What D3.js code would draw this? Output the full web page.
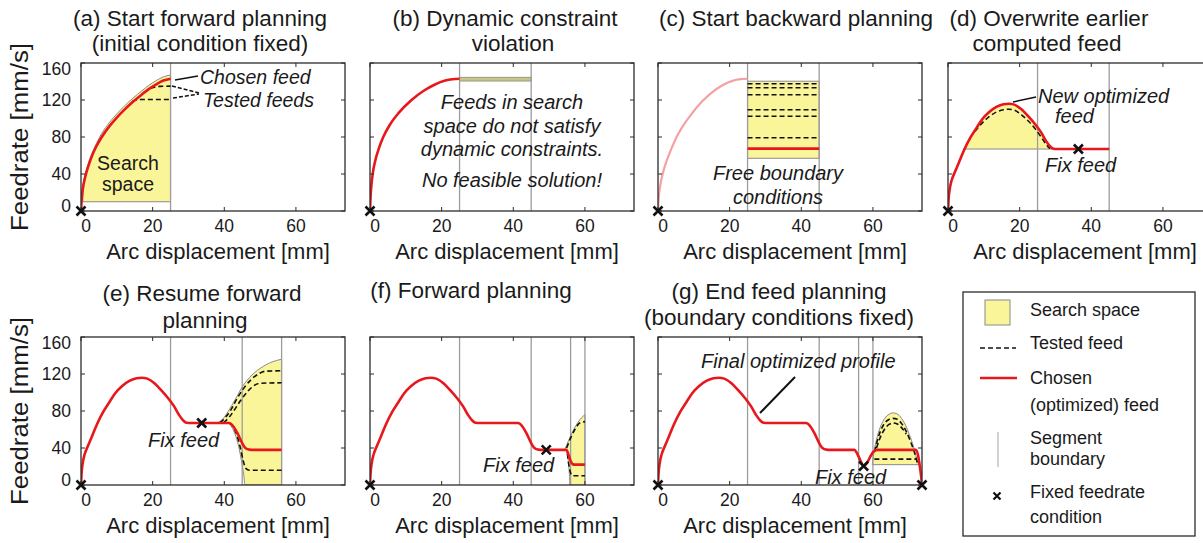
<!DOCTYPE html>
<html>
<head>
<meta charset="utf-8">
<script src="https://cdn.jsdelivr.net/npm/d3@7"></script>
<style>
	body { margin: 0; background: #fff; }
	svg { display: block; font-family: "Liberation Sans", Arial, sans-serif; }
</style>
</head>
<body>
<svg id="fig" width="1203" height="543"></svg>
<script>
// ---- data (arc displacement mm, feedrate mm/s) ----
const xTicks = [0, 20, 40, 60];
const yTicks = [0, 40, 80, 120, 160];
const arcEnd = 73.7;
const segmentBounds = [25, 45, 56, 60];

// (a) start forward planning
const redA = [[0,0],[0.2,13],[0.6,26],[1.2,37],[2,48],[3,59],[4.3,70],[5.8,80],[8,92],[10,101],[12,109],[14.5,118],[17,126],[19,132],[21,137],[23,141],[25,143]];
const searchUpperA = [[0.5,10],[0.6,28],[1.2,40],[2,51],[3,62],[4.3,73],[5.8,84],[8,96],[10,105],[12,113],[14.5,122],[17,130],[19,136],[21,141],[23,145],[25,147]];
const searchFloorA = 10;
const testedA = [
	[[17.5,128],[19,131.8],[20.5,133.8],[22,134.7],[25,135]],
	[[14.3,118.3],[15.3,120],[16.5,120.5],[25,120.5]],
];

// (b) dynamic constraint violation
const redB = [[0,0],[0.15,15],[0.4,28],[0.75,40],[1.5,55],[2.5,68],[3.7,80],[5.5,93],[8,106],[11.6,120],[15,130],[18,136.5],[21,141],[23,142.5],[25,143]];
const bandB = [140.5, 144.5];

// (c) start backward planning
const redC = [[0,0],[0.2,14],[0.6,27],[1.3,40],[2.3,53],[3.6,66],[5.2,80],[7.5,95],[9.8,107],[12.2,118],[15,128],[18,136],[21,141],[23,142.5],[25,143]];
const searchC = [57, 140.3];
const testedC = [137.5, 133.2, 125.6, 109.4, 102.5, 79.2];
const chosenC = 67.4;

// final optimized profile (g)
const finalProfile = [[0,0],[0.15,12],[0.5,24],[1,33],[1.8,41],[3,52],[4.5,66],[6.2,79],[8,90],[9.5,99],[11.5,107],[13.5,112.5],[15.5,115.5],[17,116],[18.5,115],[20.5,110],[22.5,102],[24.5,93],[26,85],[27.5,75],[28.6,69.5],[29.5,67.3],[30.5,67],
	[41.3,67],[42.6,63],[43.8,55],[44.9,46],[45.9,40],[47,38.2],[48,38],
	[54.8,38],[55.6,34],[56.5,26.5],[57.4,20.5],[58.3,23.5],[59.3,31],[60.3,36.5],[61.2,38],
	[72,38],[72.6,32],[73.1,20],[73.5,8],[73.7,0]];

// (d) overwrite earlier computed feed
const tailD = [[45,67]];
const searchUpperD = [[4.4,67],[6.2,79],[8,90],[9.5,99],[11.5,107],[13.5,112.5],[15.5,115.5],[17,116],[18.5,115],[20.5,110],[22.5,102],[24.5,93],[26,85],[27.5,75],[28.6,69.5],[29.5,67]];
const searchFloorD = [[4.4,67],[29.5,67]];
const testedD = [
	[[7.5,86],[9.5,95],[11.5,102],[13.5,107],[15.5,109.5],[17,110],[18.5,109],[20.5,104],[22.5,97],[24.5,88],[26,80],[27.5,71.5],[28.5,67.5]],
];

// (e) resume forward planning
const tailE = [[56,38]];
const searchUpperE = [[38,67],[39.5,71],[41,79],[43,92],[45,106],[47,116],[50,126],[53,132.5],[56,136]];
const searchLowerE = [[38,67],[41,67],[42,63],[43,55],[44,42],[44.8,26],[45.4,12],[45.8,0],[56,0]];
const testedE = [
	[[38.8,67.5],[40.3,73],[41.8,81],[43.5,93],[45.5,105],[47.5,114],[49.5,120],[51.5,123],[56,123.5]],
	[[39.8,67.5],[41.3,73],[42.8,81],[44.5,91],[46.5,101],[48.5,108],[50,110],[56,110.5]],
	[[41.6,67],[42.6,62],[43.6,53],[44.5,40],[45.3,26],[46,18],[47,16],[56,16]],
];

// (f) forward planning
const tailF = [[55.4,33],[56,26],[56.6,22.5],[57.2,22],[60,22]];
const searchUpperF = [[54.3,38],[55,44],[56,53],[57,61],[58,67.5],[59,72.5],[60,76]];
const searchLowerF = [[54.3,38],[54.8,38],[55.2,31],[55.5,20],[55.7,9],[55.8,0],[60,0]];
const testedF = [
	[[54.9,40],[55.6,47],[56.5,55],[57.5,62],[58.5,67],[60,68.5]],
	[[55.1,34],[55.5,22],[56,13],[56.6,10],[60,10]],
];

// (g) end feed planning
const searchUpperG = [[59.8,22],[60.4,38],[61.2,52],[62.2,64],[63.3,72],[64.5,76.5],[65.5,78],[66.7,77],[68,72],[69.3,63],[70.5,51],[71.6,38],[72.4,26],[72.8,22]];
const searchFloorG = [[59.8,22],[72.8,22]];
const testedG = [
	[[60.5,36],[61.3,49],[62.3,60],[63.4,67.5],[64.6,71],[65.6,72],[66.8,71],[68,66.5],[69.3,58],[70.5,47],[71.6,35],[72.4,24]],
	[[61,40],[62,51],[63.2,60],[64.5,65.5],[65.6,67],[66.8,66],[68,62],[69.3,55]],
	[[60.4,28],[72.2,28]],
];

const fixedPoints = {
	a: [[0,0]], b: [[0,0]], c: [[0,0]],
	d: [[0,0],[36.4,67]],
	e: [[0,0],[33.7,67]],
	f: [[0,0],[49.2,38]],
	g: [[0,0],[57.4,20.5],[73.7,0]],
};

// ---- layout ----
const W = 264, H = 148;
const RED = "#e8171c", YELLOW = "#fbf59a", OUTLINE = "#8a8a8a", SEG = "#9c9c9c", INK = "#1a1a1a";

const svg = d3.select("#fig");
const x = d3.scaleLinear().domain([0, arcEnd]).range([0, W]);
const y = d3.scaleLinear().domain([0, 160]).range([H, 0]);
const line = d3.line().x((d) => x(d[0])).y((d) => y(d[1])).curve(d3.curveMonotoneX);

function polygon(upper, lower) {
	// upper left->right, then back along lower (given left->right)
	return line(upper) + line(lower.slice().reverse()).replace(/^M/, "L") + "Z";
}

function label(sel, px, py, str, o = {}) {
	return sel.append("text")
		.attr("x", px).attr("y", py)
		.attr("text-anchor", o.anchor || "middle")
		.attr("dominant-baseline", "central")
		.attr("font-size", o.size || 20)
		.attr("font-style", o.italic ? "italic" : null)
		.attr("fill", INK)
		.text(str);
}

const panels = [
	{ id: "a", left: 81, top: 63, segs: [25], yLabels: true },
	{ id: "b", left: 370, top: 63, segs: [25, 45] },
	{ id: "c", left: 658, top: 63, segs: [25, 45] },
	{ id: "d", left: 948, top: 63, segs: [25, 45] },
	{ id: "e", left: 81, top: 337, segs: [25, 45, 56], yLabels: true },
	{ id: "f", left: 370, top: 337, segs: segmentBounds },
	{ id: "g", left: 658, top: 337, segs: segmentBounds },
];

const titles = [
	{ lines: ["(a) Start forward planning", "(initial condition fixed)"], xs: [200, 200], ys: [18, 43] },
	{ lines: ["(b) Dynamic constraint", "violation"], xs: [505, 513], ys: [18, 43] },
	{ lines: ["(c) Start backward planning"], xs: [796], ys: [18] },
	{ lines: ["(d) Overwrite earlier", "computed feed"], xs: [1049, 1047], ys: [18, 43] },
	{ lines: ["(e) Resume forward", "planning"], xs: [202, 205], ys: [293, 320] },
	{ lines: ["(f) Forward planning"], xs: [471], ys: [290] },
	{ lines: ["(g) End feed planning", "(boundary conditions fixed)"], xs: [779, 779], ys: [291, 317] },
];

panels.forEach((p) => {
	const g = svg.append("g").attr("transform", `translate(${p.left},${p.top})`);
	const clipId = "clip-" + p.id;
	g.append("clipPath").attr("id", clipId).append("rect").attr("width", W).attr("height", H);
	const plot = g.append("g").attr("clip-path", `url(#${clipId})`);
	p.g = g;
	p.plot = plot;
});

const P = Object.fromEntries(panels.map((p) => [p.id, p]));

// search spaces (yellow)
function fill(sel, d) {
	sel.append("path").attr("d", d).attr("fill", YELLOW).attr("stroke", OUTLINE).attr("stroke-width", 1);
}
fill(P.a.plot, polygon(searchUpperA, [[searchUpperA[0][0], searchFloorA], [25, searchFloorA]]));
P.b.plot.append("rect")
	.attr("x", x(25)).attr("width", x(45) - x(25))
	.attr("y", y(bandB[1])).attr("height", y(bandB[0]) - y(bandB[1]))
	.attr("fill", "#c9c48a").attr("stroke", "#9a9a80").attr("stroke-width", 1);
P.c.plot.append("rect")
	.attr("x", x(25)).attr("width", x(45) - x(25))
	.attr("y", y(searchC[1])).attr("height", y(searchC[0]) - y(searchC[1]))
	.attr("fill", YELLOW).attr("stroke", OUTLINE).attr("stroke-width", 1);
fill(P.d.plot, polygon(searchUpperD, searchFloorD));
fill(P.e.plot, polygon(searchUpperE, searchLowerE));
fill(P.f.plot, polygon(searchUpperF, searchLowerF));
fill(P.g.plot, polygon(searchUpperG, searchFloorG));

// segment boundaries
panels.forEach((p) => {
	p.plot.selectAll(".seg").data(p.segs).join("line")
		.attr("class", "seg")
		.attr("x1", (d) => x(d)).attr("x2", (d) => x(d))
		.attr("y1", 0).attr("y2", H)
		.attr("stroke", SEG).attr("stroke-width", 1.3);
});

// tested feeds (dashed)
function dashed(sel, data) {
	sel.selectAll(null).data(data).join("path")
		.attr("d", line).attr("fill", "none")
		.attr("stroke", "#111").attr("stroke-width", 1.6).attr("stroke-dasharray", "5,3");
}
dashed(P.a.plot, testedA);
dashed(P.c.plot, testedC.map((v) => [[25, v], [45, v]]));
dashed(P.d.plot, testedD);
dashed(P.e.plot, testedE);
dashed(P.f.plot, testedF);
dashed(P.g.plot, testedG);

// chosen feeds (red)
function red(sel, data, color = RED, w = 2.6) {
	sel.append("path").attr("d", line(data)).attr("fill", "none")
		.attr("stroke", color).attr("stroke-width", w).attr("stroke-linejoin", "round");
}
red(P.a.plot, redA);
red(P.b.plot, redB);
red(P.c.plot, redC, "#f5a0a2", 2.2);
red(P.c.plot, [[25, chosenC], [45, chosenC]]);
red(P.d.plot, finalProfile.filter((d) => d[0] <= 30.5).concat(tailD));
red(P.e.plot, finalProfile.filter((d) => d[0] <= 48).concat(tailE));
red(P.f.plot, finalProfile.filter((d) => d[0] <= 54.8).concat(tailF));
red(P.g.plot, finalProfile);

// boxes, ticks, labels, fixed points
panels.forEach((p) => {
	const g = p.g;
	g.append("rect").attr("width", W).attr("height", H)
		.attr("fill", "none").attr("stroke", "#2b2b2b").attr("stroke-width", 1.3);
	xTicks.forEach((t) => {
		g.append("line").attr("x1", x(t)).attr("x2", x(t)).attr("y1", H).attr("y2", H - 4).attr("stroke", "#2b2b2b");
		g.append("line").attr("x1", x(t)).attr("x2", x(t)).attr("y1", 0).attr("y2", 4).attr("stroke", "#2b2b2b");
		label(g, x(t) + (t === 0 ? 5 : 0), H + 15, t, { size: 17.5 });
	});
	yTicks.forEach((t) => {
		g.append("line").attr("x1", 0).attr("x2", 4).attr("y1", y(t)).attr("y2", y(t)).attr("stroke", "#2b2b2b");
		g.append("line").attr("x1", W).attr("x2", W - 4).attr("y1", y(t)).attr("y2", y(t)).attr("stroke", "#2b2b2b");
		if (p.yLabels) {
			const nudge = t === 160 ? 6 : t === 0 ? -5 : 0;
			label(g, -10, y(t) + nudge, t, { size: 17.5, anchor: "end" });
		}
	});
	label(g, W / 2 + 5, H + 40, "Arc displacement [mm]", { size: 22 });
	if (p.yLabels) {
		g.append("text")
			.attr("transform", `translate(-61,${H / 2}) rotate(-90)`)
			.attr("text-anchor", "middle").attr("dominant-baseline", "central")
			.attr("font-size", 23).attr("fill", INK)
			.attr("textLength", 188).attr("lengthAdjust", "spacingAndGlyphs")
			.text("Feedrate [mm/s]");
	}
	g.selectAll(".fix").data(fixedPoints[p.id]).join("path")
		.attr("class", "fix")
		.attr("transform", (d) => `translate(${x(d[0])},${y(d[1])})`)
		.attr("d", "M-4.5,-4.5L4.5,4.5M-4.5,4.5L4.5,-4.5")
		.attr("stroke", "#111").attr("stroke-width", 2.6);
});

// titles
titles.forEach((t) => {
	t.lines.forEach((s, i) => label(svg, t.xs[i], t.ys[i], s, { size: 22.5 }));
});

// annotations
const ann = svg.append("g");
label(ann, 200, 77, "Chosen feed", { italic: true, anchor: "start", size: 19.5 });
label(ann, 203, 100, "Tested feeds", { italic: true, anchor: "start", size: 19.5 });
ann.append("line").attr("x1", 175).attr("y1", 80).attr("x2", 198).attr("y2", 76).attr("stroke", "#111").attr("stroke-width", 1.5);
ann.append("line").attr("x1", 172).attr("y1", 86).attr("x2", 199).attr("y2", 93).attr("stroke", "#111").attr("stroke-width", 1.5).attr("stroke-dasharray", "4,2");
ann.append("line").attr("x1", 173).attr("y1", 98).attr("x2", 199).attr("y2", 94).attr("stroke", "#111").attr("stroke-width", 1.5).attr("stroke-dasharray", "4,2");
label(ann, 128, 163, "Search", { size: 19.5 });
label(ann, 128, 184, "space", { size: 19.5 });

[["Feeds in search", 102], ["space do not satisfy", 126], ["dynamic constraints.", 149], ["No feasible solution!", 180]]
	.forEach(([s, py]) => label(ann, 512, py, s, { italic: true, size: 20 }));
label(ann, 778, 173, "Free boundary", { italic: true, size: 20 });
label(ann, 778, 197, "conditions", { italic: true, size: 20 });

label(ann, 1038, 96, "New optimized", { italic: true, anchor: "start", size: 20 });
label(ann, 1055, 116, "feed", { italic: true, anchor: "start", size: 20 });
ann.append("line").attr("x1", 1013).attr("y1", 102).attr("x2", 1036).attr("y2", 97).attr("stroke", "#111").attr("stroke-width", 1.5);
label(ann, 1045, 165, "Fix feed", { italic: true, anchor: "start", size: 20 });

label(ann, 148, 440, "Fix feed", { italic: true, anchor: "start", size: 20 });
label(ann, 483, 465, "Fix feed", { italic: true, anchor: "start", size: 20 });
label(ann, 701, 361, "Final optimized profile", { italic: true, anchor: "start", size: 20 });
ann.append("line").attr("x1", 795).attr("y1", 377).attr("x2", 760).attr("y2", 413).attr("stroke", "#111").attr("stroke-width", 2);
label(ann, 815, 477, "Fix feed", { italic: true, anchor: "start", size: 20 });

// legend
const lg = svg.append("g");
lg.append("rect").attr("x", 963).attr("y", 292).attr("width", 232).attr("height", 244)
	.attr("fill", "#fff").attr("stroke", "#2b2b2b").attr("stroke-width", 1.3);
lg.append("rect").attr("x", 985).attr("y", 300).attr("width", 25).attr("height", 25)
	.attr("fill", YELLOW).attr("stroke", OUTLINE);
lg.append("line").attr("x1", 980).attr("x2", 1016).attr("y1", 348).attr("y2", 348)
	.attr("stroke", "#111").attr("stroke-width", 1.4).attr("stroke-dasharray", "5,3");
lg.append("line").attr("x1", 980).attr("x2", 1017).attr("y1", 378).attr("y2", 378)
	.attr("stroke", RED).attr("stroke-width", 2.6);
lg.append("line").attr("x1", 998).attr("x2", 998).attr("y1", 432).attr("y2", 467)
	.attr("stroke", "#b8b8b8").attr("stroke-width", 1.3);
lg.append("path").attr("transform", "translate(997,496)")
	.attr("d", "M-3.5,-3.5L3.5,3.5M-3.5,3.5L3.5,-3.5").attr("stroke", "#111").attr("stroke-width", 2.2);
[["Search space", 310], ["Tested feed", 343], ["Chosen", 378], ["(optimized) feed", 405],
 ["Segment", 438], ["boundary", 459], ["Fixed feedrate", 492], ["condition", 517]]
	.forEach(([s, py]) => label(lg, 1030, py, s, { anchor: "start", size: 18 }));
</script>
</body>
</html>
